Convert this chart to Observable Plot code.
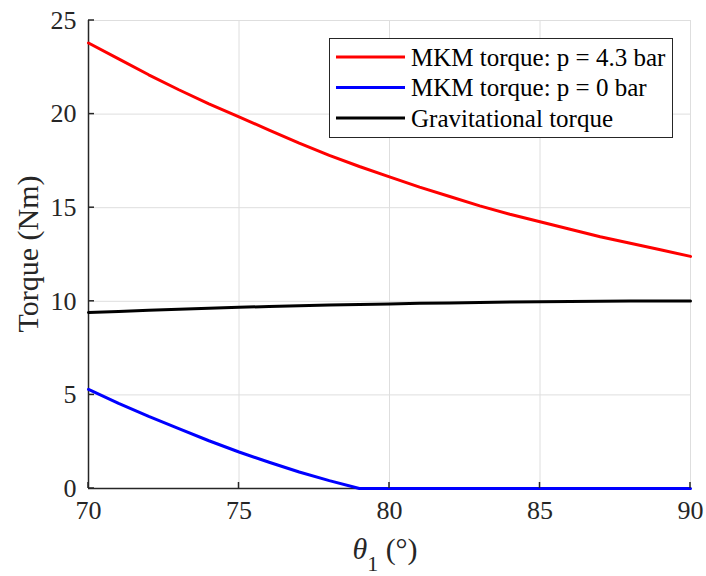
<!DOCTYPE html>
<html><head><meta charset="utf-8">
<script src="https://cdn.jsdelivr.net/npm/d3@7"></script>
<script src="https://cdn.jsdelivr.net/npm/@observablehq/plot@0.6"></script>
<style>body{margin:0;background:#fff;} #chart svg{display:block;}</style>
</head><body><div id="chart"></div>
<script>
const theta    = [70,71,72,73,74,75,76,77,78,79,80,81,82,83,84,85,86,87,88,89,90];
const mkmHigh  = [23.8,22.95,22.1,21.3,20.55,19.85,19.15,18.45,17.8,17.2,16.65,16.1,15.6,15.1,14.65,14.25,13.85,13.45,13.1,12.75,12.4];
const mkmZero  = [5.3,4.55,3.85,3.2,2.55,1.95,1.4,0.88,0.42,0,0,0,0,0,0,0,0,0,0,0,0];
const gravity  = [9.40,9.46,9.52,9.58,9.63,9.68,9.72,9.76,9.80,9.83,9.86,9.89,9.91,9.94,9.96,9.97,9.99,10.0,10.01,10.02,10.02];
const xTicks = [70,75,80,85,90];
const yTicks = [0,5,10,15,20,25];
const seriesNames = ["MKM torque: p = 4.3 bar","MKM torque: p = 0 bar","Gravitational torque"];
const seriesColors = ["#ff0000","#0000ff","#000000"];
const seriesValues = [mkmHigh, mkmZero, gravity];

const rows = [];
seriesNames.forEach((s,i)=>theta.forEach((t,j)=>rows.push({series:s, theta:t, torque:seriesValues[i][j]})));

const font = "Liberation Serif, Times New Roman, serif";
const plot = Plot.plot({
  width: 706, height: 576,
  marginLeft: 88, marginTop: 20, marginRight: 16, marginBottom: 88,
  style: {fontFamily: font, background: "#fff", color: "#262626"},
  x: {domain: [70,90], label: null},
  y: {domain: [0,25], label: null},
  color: {domain: seriesNames, range: seriesColors},
  marks: [
    Plot.gridX(xTicks, {stroke: "#dedede", strokeOpacity: 1}),
    Plot.gridY(yTicks, {stroke: "#dedede", strokeOpacity: 1}),
    Plot.ruleX([70], {stroke: "#262626", strokeWidth: 1.5}),
    Plot.ruleY([0], {stroke: "#262626", strokeWidth: 1.5}),
    Plot.axisX(xTicks, {tickSize: 0, tickPadding: 12, fontSize: 26, fill: "#262626", label: null}),
    Plot.axisY(yTicks, {tickSize: 0, tickPadding: 12, fontSize: 26, fill: "#262626", label: null}),
    Plot.line(rows, {x: "theta", y: "torque", z: "series", stroke: "series", strokeWidth: 3}),
  ]
});
document.getElementById("chart").appendChild(plot);

// inward tick marks from scales
const svg = d3.select(plot);
const sx = plot.scale("x"), sy = plot.scale("y");
const x0 = sx.apply(70), y0 = sy.apply(0);
const tg = svg.append("g").attr("stroke", "#262626").attr("stroke-width", 1.5);
xTicks.forEach(t => tg.append("line").attr("x1", sx.apply(t)).attr("x2", sx.apply(t)).attr("y1", y0).attr("y2", y0 - 6));
yTicks.forEach(t => tg.append("line").attr("x1", x0).attr("x2", x0 + 6).attr("y1", sy.apply(t)).attr("y2", sy.apply(t)));

// axis titles
const xt = svg.append("text").attr("x", (sx.apply(70)+sx.apply(90))/2 - 4).attr("y", 559)
  .attr("text-anchor", "middle").attr("font-size", 30).attr("font-family", font).attr("fill", "#262626");
xt.append("tspan").attr("font-style", "italic").text("θ");
xt.append("tspan").attr("font-size", 22).attr("dy", 12).text("1");
xt.append("tspan").attr("dy", -12).text(" (°)");
svg.append("text").attr("transform", `translate(38,${(sy.apply(0)+sy.apply(25))/2}) rotate(-90)`)
  .attr("text-anchor", "middle").attr("font-size", 30).attr("font-family", font).attr("fill", "#262626")
  .text("Torque (Nm)");

// legend
const lg = svg.append("g");
lg.append("rect").attr("x", 329.5).attr("y", 38.5).attr("width", 343).attr("height", 99)
  .attr("fill", "#fff").attr("stroke", "#262626").attr("stroke-width", 1);
seriesNames.forEach((s,i) => {
  const yy = 57 + i*30.5;
  lg.append("line").attr("x1", 336).attr("x2", 405).attr("y1", yy).attr("y2", yy)
    .attr("stroke", seriesColors[i]).attr("stroke-width", 3);
  lg.append("text").attr("x", 411).attr("y", yy).attr("dy", "0.35em").attr("font-size", 25)
    .attr("text-anchor", "start").attr("font-family", font).attr("fill", "#000").text(s);
});
</script></body></html>
